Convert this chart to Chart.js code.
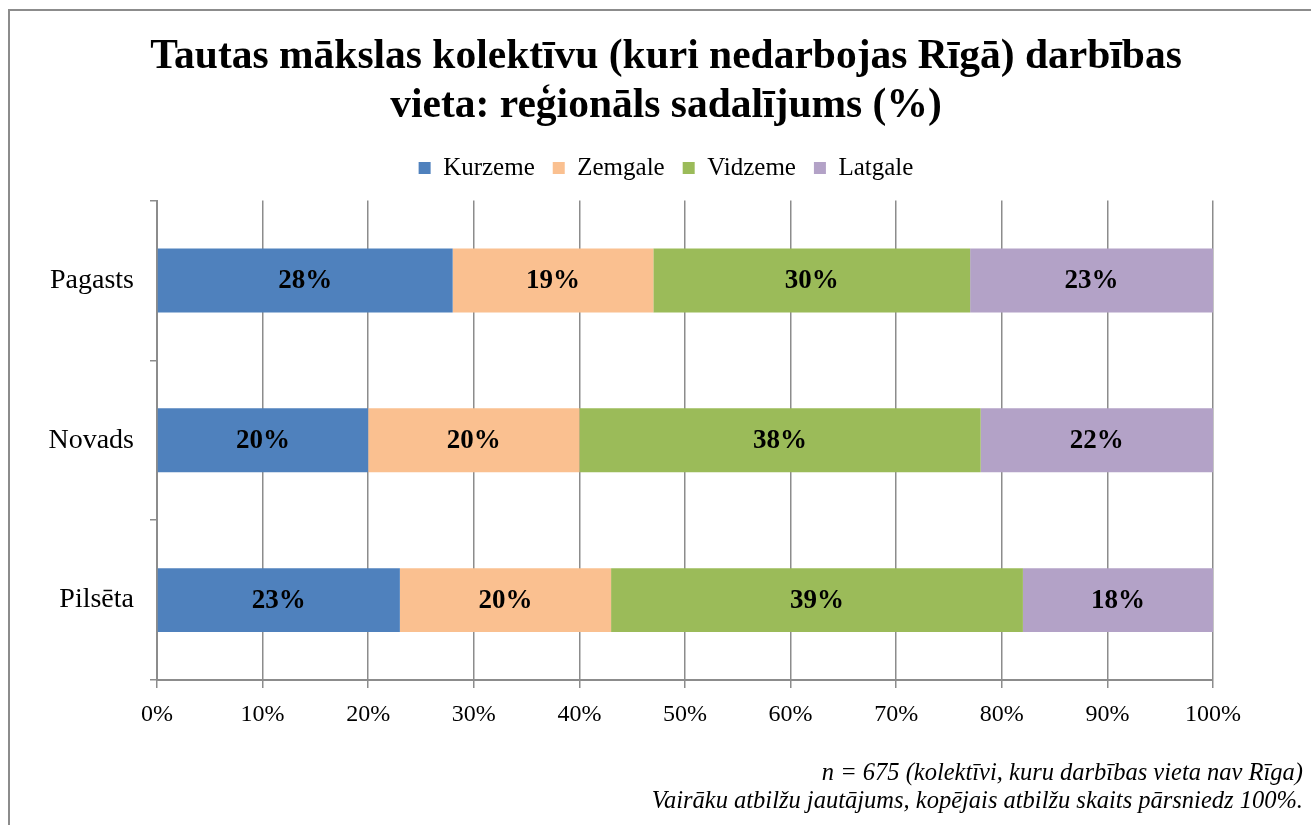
<!DOCTYPE html>
<html>
<head>
<meta charset="utf-8">
<script src="https://cdn.jsdelivr.net/npm/chart.js@4.4.1/dist/chart.umd.min.js"></script>
<style>
  html, body { margin: 0; padding: 0; background: #fff; overflow: hidden; }
  #wrap { position: absolute; left: 0; top: 0; width: 1330px; height: 825px; }
  #frame { position: absolute; left: 8px; top: 9px; width: 1400px; height: 900px; border: 2px solid #8c8c8c; }
  .note { position: absolute; right: 8px; font-family: "Liberation Serif", serif; font-style: italic;
          font-size: 24.5px; color: #000; text-align: right; white-space: nowrap; }
</style>
</head>
<body>
<div id="frame"></div>
<div id="wrap"><canvas id="regionChart"></canvas></div>
<div class="note" style="top:758px">n = 675 (kolektīvi, kuru darbības vieta nav Rīga)</div>
<div class="note" style="top:786px">Vairāku atbilžu jautājums, kopējais atbilžu skaits pārsniedz 100%.</div>
<script>
// Data
var places = ['Pagasts', 'Novads', 'Pilsēta'];
var regions = ['Kurzeme', 'Zemgale', 'Vidzeme', 'Latgale'];
var kurzeme = [28, 20, 23];
var zemgale = [19, 20, 20];
var vidzeme = [30, 38, 39];
var latgale = [23, 22, 18];
var xTicks = [0, 10, 20, 30, 40, 50, 60, 70, 80, 90, 100];

var colors = ['#4F81BD', '#FAC090', '#9BBB59', '#B3A2C7'];
var serif = '"Liberation Serif", "Times New Roman", serif';

// labels in the middle of each bar piece
var barLabels = {
    id: 'barLabels',
    afterDatasetsDraw: function (chart) {
        var ctx = chart.ctx;
        ctx.save();
        ctx.font = 'bold 27px ' + serif;
        ctx.fillStyle = '#000';
        ctx.textAlign = 'center';
        ctx.textBaseline = 'middle';
        chart.data.datasets.forEach(function (ds, i) {
            chart.getDatasetMeta(i).data.forEach(function (bar, j) {
                var cx = (bar.x + bar.base) / 2;
                ctx.fillText(ds.data[j] + '%', cx, bar.y + 1);
            });
        });
        ctx.restore();
    }
};

var ctx = document.getElementById('regionChart').getContext('2d');
var regionChart = new Chart(ctx, {
    type: 'bar',
    data: {
        labels: places,
        datasets: [
            { label: regions[0], data: kurzeme, backgroundColor: colors[0] },
            { label: regions[1], data: zemgale, backgroundColor: colors[1] },
            { label: regions[2], data: vidzeme, backgroundColor: colors[2] },
            { label: regions[3], data: latgale, backgroundColor: colors[3] }
        ]
    },
    options: {
        indexAxis: 'y',
        responsive: true,
        maintainAspectRatio: false,
        animation: false,
        layout: { padding: { left: 10, right: 8, top: 0, bottom: 0 } },
        datasets: { bar: { barPercentage: 0.5, categoryPercentage: 0.8, borderWidth: 0 } },
        plugins: {
            title: {
                display: true,
                text: ['Tautas mākslas kolektīvu (kuri nedarbojas Rīgā) darbības', 'vieta: reģionāls sadalījums (%)'],
                color: '#000',
                font: { family: serif, size: 41.5, weight: 'bold', lineHeight: 1.2 },
                padding: { top: 32, bottom: 6 }
            },
            legend: {
                display: true,
                position: 'top',
                labels: {
                    color: '#000',
                    font: { family: serif, size: 25 },
                    boxWidth: 12,
                    boxHeight: 12,
                    padding: 18
                }
            },
            tooltip: { enabled: false }
        },
        scales: {
            x: {
                stacked: true,
                min: 0,
                max: 100,
                afterBuildTicks: function (s) {
                    s.ticks = xTicks.map(function (v) { return { value: v }; });
                },
                ticks: {
                    color: '#000',
                    font: { family: serif, size: 24 },
                    padding: 12,
                    callback: function (v) { return v + '%'; }
                },
                grid: { color: '#8c8c8c', lineWidth: 1.5, tickLength: 8 },
                border: { color: '#8c8c8c', width: 2 },
                afterFit: function (s) { s.height = 145; }
            },
            xTop: {
                type: 'linear',
                position: 'top',
                display: true,
                grid: { display: false },
                border: { display: false },
                ticks: { display: false },
                afterFit: function (s) { s.height = 10; }
            },
            y: {
                stacked: true,
                ticks: {
                    color: '#000',
                    font: { family: serif, size: 28 },
                    padding: 16
                },
                grid: { drawOnChartArea: false, color: '#8c8c8c', lineWidth: 1.5, tickLength: 7 },
                border: { color: '#8c8c8c', width: 2 },
                afterFit: function (s) { s.width = 147; }
            },
            yRight: {
                type: 'category',
                position: 'right',
                display: true,
                grid: { display: false },
                border: { display: false },
                ticks: { display: false },
                afterFit: function (s) { s.width = 109; }
            }
        }
    },
    plugins: [barLabels]
});
</script>
</body>
</html>
